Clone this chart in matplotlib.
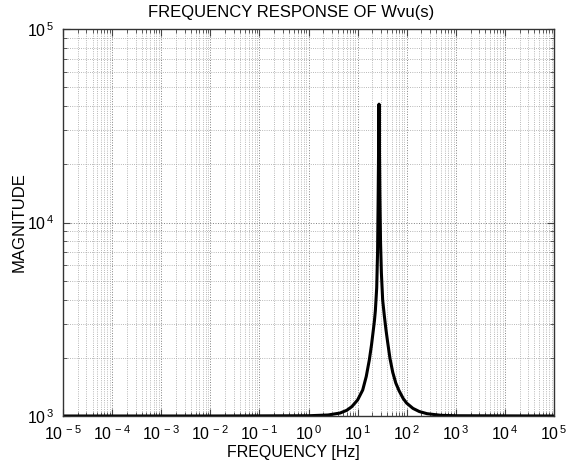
import matplotlib
matplotlib.use('Agg')
import matplotlib.pyplot as plt
from matplotlib.ticker import FixedLocator, LogLocator, FuncFormatter, NullFormatter
import numpy as np

plt.rcParams['font.family'] = ['Liberation Sans', 'DejaVu Sans']
plt.rcParams['mathtext.fontset'] = 'custom'
plt.rcParams['mathtext.rm'] = 'Liberation Sans'
plt.rcParams['mathtext.default'] = 'regular'

# values
freq_hz = [1e-5, 1e-2, 1.0, 2.5, 4.4, 6.0, 7.6, 10.0, 12.7, 15.0, 17.3,
           19.2, 20.9, 22.0, 23.0, 24.5, 25.5, 26.2, 26.8, 27.3, 27.8,
           28.4, 29.3, 30.5, 32.4, 35.0, 37.9, 41.0, 45.7, 52.0, 60.0,
           70.0, 85.0, 100.0, 134.0, 180.0, 259.0, 500.0, 1000.0, 1e5]
magnitude = [1000, 1000, 1003, 1012, 1036, 1070, 1117, 1210, 1362, 1600, 1945,
             2330, 2780, 3100, 3500, 4600, 7000, 13000, 25000, 40900, 25000,
             14000, 8000, 5500, 3975, 3300, 2780, 2400, 1980, 1680, 1480,
             1350, 1230, 1165, 1095, 1055, 1028, 1008, 1003, 1000]

x_decades = list(range(-5, 6))
y_decades = [3, 4, 5]

title = 'FREQUENCY RESPONSE OF Wvu(s)'
xlabel = 'FREQUENCY [Hz]'
ylabel = 'MAGNITUDE'

fig = plt.figure(figsize=(5.87, 4.66), dpi=100)
ax = fig.add_axes([63/587, 50/466, 491/587, 387/466])

ax.plot(freq_hz, magnitude, color='black', linewidth=2.2,
        solid_joinstyle='round', solid_capstyle='round')

ax.set_xscale('log')
ax.set_yscale('log')
ax.set_xlim(10.0**x_decades[0], 10.0**x_decades[-1])
ax.set_ylim(10.0**y_decades[0], 10.0**y_decades[-1])

ax.xaxis.set_major_locator(FixedLocator([10.0**e for e in x_decades]))
ax.yaxis.set_major_locator(FixedLocator([10.0**e for e in y_decades]))
ax.xaxis.set_minor_locator(LogLocator(base=10, subs=np.arange(2, 10), numticks=200))
ax.yaxis.set_minor_locator(LogLocator(base=10, subs=np.arange(2, 10), numticks=200))

fmt = FuncFormatter(lambda v, p: r'10$^{\,%d}$' % int(round(np.log10(v))))
ax.xaxis.set_major_formatter(fmt)
ax.yaxis.set_major_formatter(fmt)
ax.xaxis.set_minor_formatter(NullFormatter())
ax.yaxis.set_minor_formatter(NullFormatter())

ax.tick_params(which='both', direction='in', top=True, right=True,
               labelsize=11.5, color='#444444')
ax.tick_params(which='major', length=5, width=0.8, pad=6)
ax.tick_params(which='minor', length=3, width=0.6)

ax.grid(which='major', linestyle=':', color='#808080', linewidth=0.7)
ax.grid(which='minor', linestyle=':', color='#a0a0a0', linewidth=0.6)

for s in ax.spines.values():
    s.set_linewidth(1.0)
    s.set_color('#333333')

fig.text(148/587, 1 - 13/466, title, ha='left', va='center', fontsize=12)
fig.text(293/587, 1 - 452/466, xlabel, ha='center', va='center', fontsize=11.5)
fig.text(19/587, 1 - 222/466, ylabel, ha='center', va='center', fontsize=12,
         rotation=90)

fig.savefig('out.png', dpi=100)
